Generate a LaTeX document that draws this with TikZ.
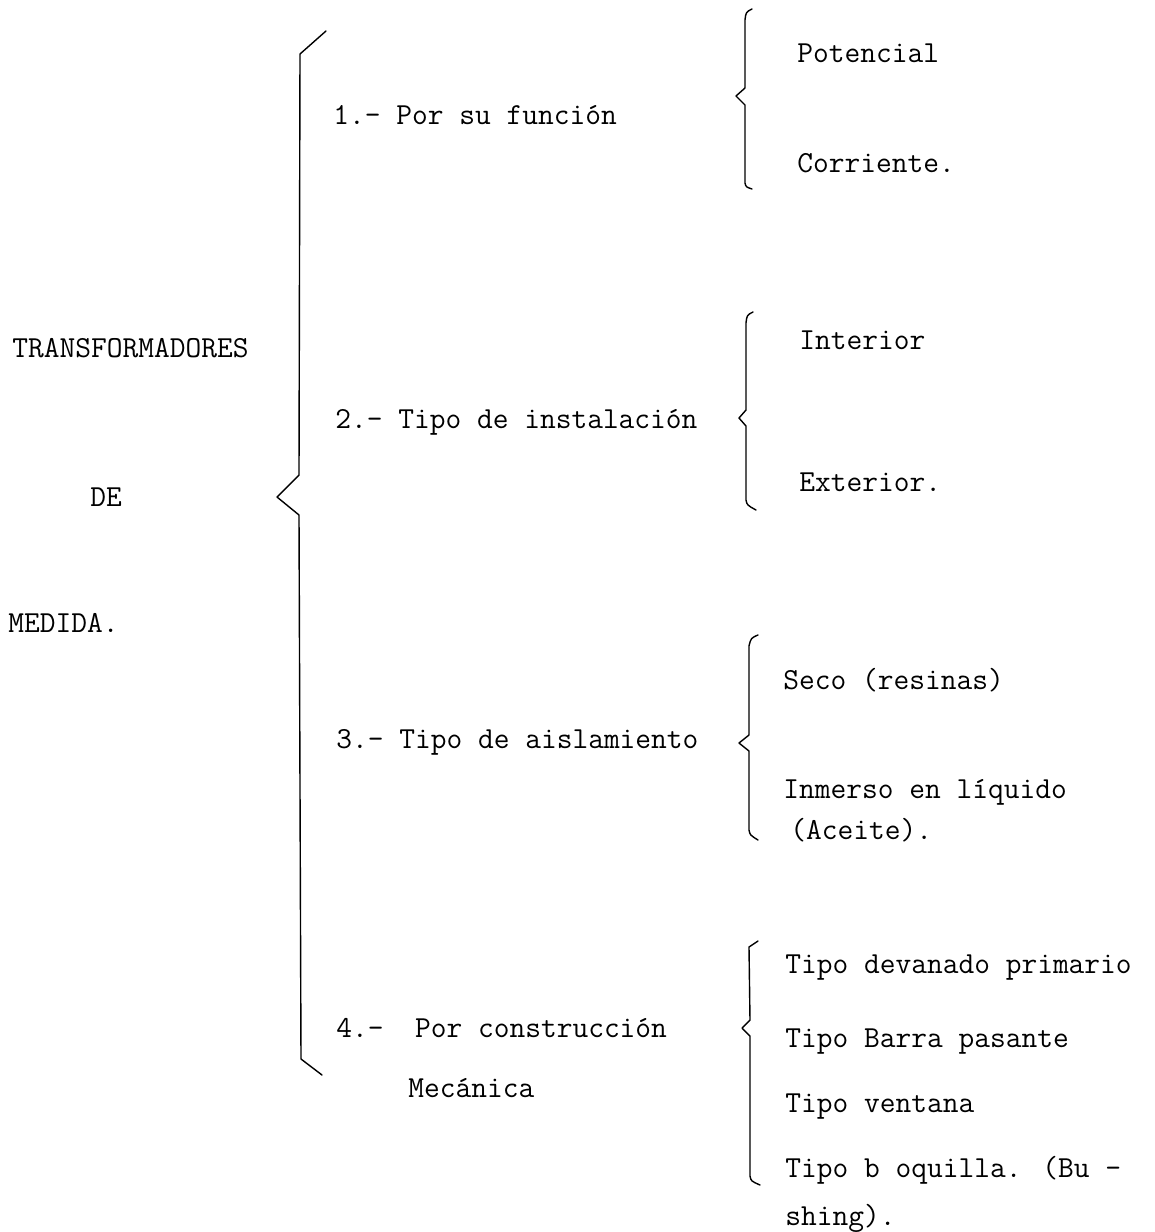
\documentclass[tikz,border=0pt]{standalone}
\usepackage{fontspec}
\usetikzlibrary{positioning}

\begin{document}
\begin{tikzpicture}[x=0.02cm,y=-0.02cm,
    font=\ttfamily\fontsize{17.4}{20}\selectfont,
    lbl/.style={anchor=west,inner sep=0pt},
    brc/.style={line width=0.8pt,line join=round,line cap=round}]
  \useasboundingbox (0,0) rectangle (1155,1232);
  % title
  \node[lbl] (trans) at (12,348) {TRANSFORMADORES};
  \node[lbl] (de) at (90,497) {DE};
  \node[lbl] (medida) at (8,623) {MEDIDA.};
  % main brace
  \draw[brc] (326,31) -- (300,54) -- (299,475) -- (277,497) -- (299,515)
    -- (301,1059) -- (322,1075);
  % classes
  \node[lbl] (fun) at (333,115) {1.- Por su función};
  \node[lbl] (ins) at (335,422) {2.- Tipo de instalación};
  \node[lbl] (ais) at (336,742) {3.- Tipo de aislamiento};
  \node[lbl] (con) at (336,1028) {4.-\ \ Por construcción};
  \node[lbl] (mec) at (408,1088) {Mecánica};
  % 1 funcion
  \draw[brc] (752,9) .. controls (746,12) .. (745,20) -- (745,88) -- (736,96)
    -- (745,105) -- (745,183) .. controls (746,187) .. (752,189);
  \node[lbl] (pot) at (797,53) {Potencial};
  \node[lbl] (cor) at (797,163) {Corriente.};
  % 2 instalacion
  \draw[brc] (753,312) .. controls (747,315) .. (746,323) -- (746,410) -- (739,418)
    -- (746,426) -- (746,500) .. controls (747,505) .. (756,510);
  \node[lbl] (int) at (799,340) {Interior};
  \node[lbl] (ext) at (799,482) {Exterior.};
  % 3 aislamiento
  \draw[brc] (758,635) .. controls (751,638) .. (749,646) -- (749,735) -- (739,743)
    -- (749,751) -- (749,830) .. controls (750,835) .. (758,840);
  \node[lbl] (sec) at (783,680) {Seco (resinas)};
  \node[lbl] (inm) at (783,792) {Inmerso en líquido};
  \node[lbl] (ace) at (790,830) {(Aceite).};
  % 4 construccion
  \draw[brc] (758,941) -- (749,947) -- (750,1020) -- (742,1028)
    -- (750,1036) -- (750,1176) .. controls (751,1181) .. (760,1185);
  \node[lbl] (dev) at (785,968) {Tipo devanado primario};
  \node[lbl] (bar) at (785,1042) {Tipo Barra pasante};
  \node[lbl] (ven) at (785,1107) {Tipo ventana};
  \node[lbl] (boq) at (785,1170) {Tipo b oquilla. (Bu -};
  \node[lbl] (shi) at (785,1218) {shing).};
\end{tikzpicture}
\end{document}
